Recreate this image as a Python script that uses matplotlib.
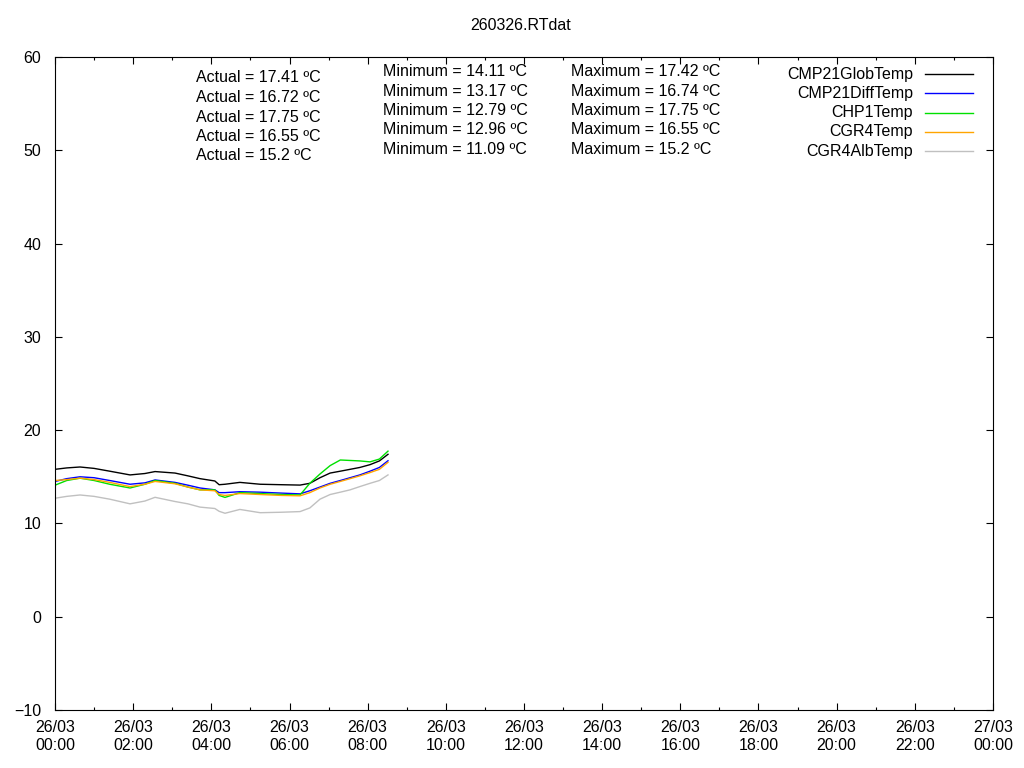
import matplotlib
matplotlib.use('Agg')
import matplotlib.pyplot as plt
from matplotlib.ticker import MultipleLocator

plt.rcParams['font.family'] = ['Liberation Sans', 'DejaVu Sans']

# hours since 26/03 00:00
hours = [0, 0.3, 0.64, 1.0, 1.4, 1.92, 2.3, 2.56, 3.07, 3.4, 3.71, 4.09, 4.2,
         4.35, 4.73, 5.25, 5.8, 6.27, 6.52, 6.78, 7.04, 7.3, 7.55, 7.8, 8.06,
         8.3, 8.52]

glob_temp = [15.8, 15.95, 16.05, 15.9, 15.6, 15.2, 15.35, 15.56, 15.4, 15.1,
             14.8, 14.55, 14.15, 14.2, 14.4, 14.2, 14.15, 14.11, 14.3, 14.9,
             15.4, 15.6, 15.8, 16.0, 16.3, 16.7, 17.41]
diff_temp = [14.5, 14.8, 15.0, 14.9, 14.6, 14.2, 14.35, 14.66, 14.4, 14.1,
             13.8, 13.6, 13.3, 13.3, 13.4, 13.35, 13.25, 13.17, 13.5, 13.9,
             14.3, 14.6, 14.9, 15.2, 15.6, 16.0, 16.72]
chp1_temp = [14.1, 14.6, 14.85, 14.6, 14.2, 13.8, 14.2, 14.6, 14.3, 13.9,
             13.6, 13.6, 13.0, 12.79, 13.3, 13.2, 13.1, 13.05, 14.3, 15.3,
             16.2, 16.8, 16.75, 16.7, 16.6, 16.9, 17.75]
cgr4_temp = [14.6, 14.7, 14.85, 14.7, 14.4, 13.95, 14.2, 14.5, 14.25, 13.9,
             13.6, 13.5, 13.1, 13.0, 13.2, 13.1, 13.0, 12.96, 13.3, 13.8,
             14.2, 14.5, 14.8, 15.1, 15.45, 15.8, 16.55]
alb_temp = [12.7, 12.9, 13.05, 12.9, 12.6, 12.1, 12.4, 12.8, 12.35, 12.1,
            11.75, 11.6, 11.3, 11.09, 11.5, 11.15, 11.2, 11.27, 11.66, 12.6,
            13.1, 13.35, 13.6, 13.95, 14.3, 14.6, 15.2]

names = ['CMP21GlobTemp', 'CMP21DiffTemp', 'CHP1Temp', 'CGR4Temp', 'CGR4AlbTemp']
colors = ['black', '#0000ff', '#00e000', '#ffa500', '#c0c0c0']
series = [glob_temp, diff_temp, chp1_temp, cgr4_temp, alb_temp]

actual = ['17.41', '16.72', '17.75', '16.55', '15.2']
minimum = ['14.11', '13.17', '12.79', '12.96', '11.09']
maximum = ['17.42', '16.74', '17.75', '16.55', '15.2']

tick_hours = list(range(0, 25, 2))
tick_labels = ['26/03\n%02d:00' % h for h in range(0, 24, 2)] + ['27/03\n00:00']

fs = 11.5

fig = plt.figure(figsize=(10.24, 7.68), dpi=100)
ax = fig.add_axes([55/1024, 1 - 710/768, 938/1024, 653/768])

for vals, c in zip(series, colors):
    ax.plot(hours, vals, color=c, lw=1.0)

ax.set_xlim(0, 24)
ax.set_ylim(-10, 60)
ax.set_xticks(tick_hours)
ax.set_xticklabels(tick_labels, fontsize=fs, linespacing=1.25)
ax.xaxis.set_minor_locator(MultipleLocator(1))
ax.yaxis.set_major_locator(MultipleLocator(10))
ax.tick_params(axis='both', which='both', direction='in', top=True, right=True,
               width=0.8, labelsize=fs)
ax.tick_params(axis='both', which='major', length=5)
ax.tick_params(axis='both', which='minor', length=2.5)
ax.tick_params(axis='x', pad=7)
ax.tick_params(axis='y', pad=10)
for sp in ax.spines.values():
    sp.set_linewidth(0.8)

fig.text(521/1024, 1 - 26/768, '260326.RTdat', ha='center', va='center', fontsize=fs)


def px(x, y):
    return x/1024, 1 - y/768


# stats text
for i in range(5):
    fig.text(*px(196, 78 + i*19.5), 'Actual = %s ºC' % actual[i], va='center', fontsize=fs)
    fig.text(*px(383, 72 + i*19.3), 'Minimum = %s ºC' % minimum[i], va='center', fontsize=fs)
    fig.text(*px(571, 72 + i*19.3), 'Maximum = %s ºC' % maximum[i], va='center', fontsize=fs)

# gnuplot style key: right-justified text, line sample on right
for i, (name, c) in enumerate(zip(names, colors)):
    y = 74 + i*19.3
    fig.text(*px(913, y), name, ha='right', va='center', fontsize=fs)
    fig.add_artist(plt.Line2D([925/1024, 973/1024], [1 - y/768, 1 - y/768],
                              color=c, lw=1.0))

fig.savefig('out.png', dpi=100)
